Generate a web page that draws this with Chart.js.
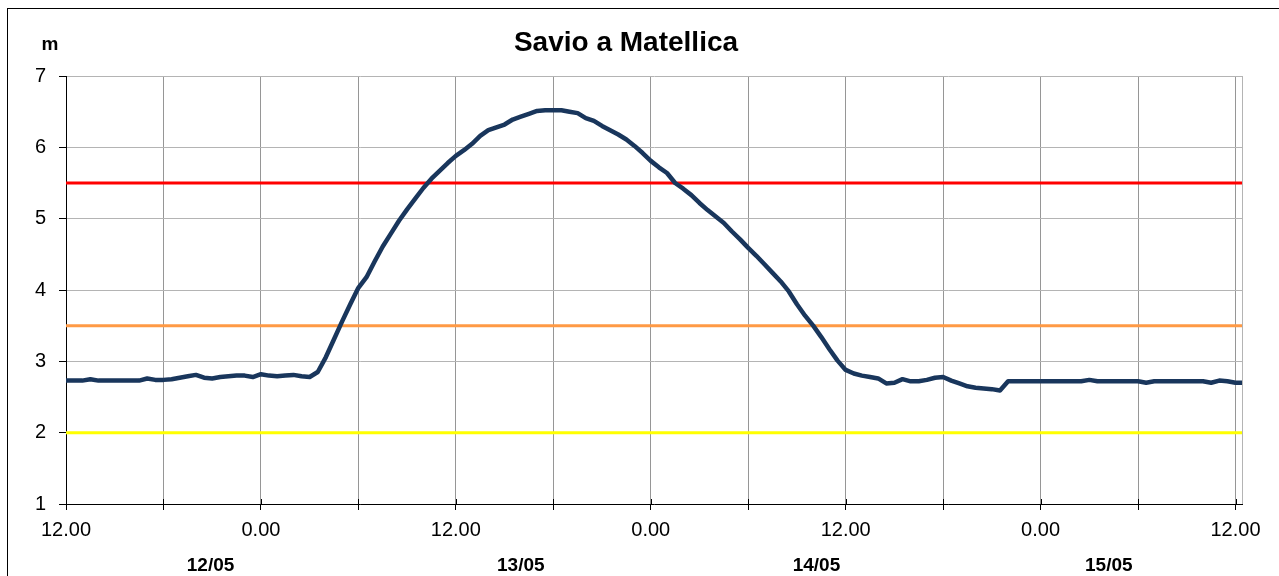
<!DOCTYPE html>
<html>
<head>
<meta charset="utf-8">
<script src="https://cdn.jsdelivr.net/npm/chart.js@4/dist/chart.umd.min.js"></script>
<style>
html,body{margin:0;padding:0;background:#fff;}
#wrap{width:1279px;height:576px;position:relative;overflow:hidden;}
canvas{display:block;}
</style>
</head>
<body>
<div id="wrap"><canvas id="c" width="1279" height="576"></canvas></div>
<script>
// ---- data ----
const chartTitle = 'Savio a Matellica';
const unitLabel = 'm';
const stepHours = 0.5; // one reading every 30 minutes, starting 12/05 12.00
const levels = [
  2.73,2.73,2.73,2.75,2.73,2.73,2.73,2.73,2.73,2.73,2.76,2.74,
  2.74,2.75,2.77,2.79,2.81,2.77,2.76,2.78,2.79,2.80,2.80,2.78,
  2.82,2.80,2.79,2.80,2.81,2.79,2.78,2.85,3.06,3.31,3.56,3.80,
  4.03,4.18,4.40,4.61,4.79,4.97,5.13,5.28,5.43,5.56,5.67,5.78,
  5.88,5.96,6.05,6.16,6.24,6.28,6.32,6.39,6.43,6.47,6.51,6.52,
  6.52,6.52,6.50,6.48,6.41,6.37,6.30,6.24,6.18,6.11,6.02,5.92,
  5.81,5.72,5.64,5.50,5.42,5.33,5.22,5.12,5.03,4.94,4.82,4.71,
  4.59,4.48,4.36,4.24,4.12,3.98,3.80,3.64,3.50,3.34,3.17,3.01,
  2.88,2.83,2.80,2.78,2.76,2.69,2.70,2.75,2.72,2.72,2.74,2.77,
  2.78,2.73,2.69,2.65,2.63,2.62,2.61,2.59,2.72,2.72,2.72,2.72,
  2.72,2.72,2.72,2.72,2.72,2.72,2.74,2.72,2.72,2.72,2.72,2.72,
  2.72,2.70,2.72,2.72,2.72,2.72,2.72,2.72,2.72,2.70,2.73,2.72,
  2.70,2.70
];
const xTickLabels = ['12.00','','0.00','','12.00','','0.00','','12.00','','0.00','','12.00'];
const dayLabels = ['12/05','13/05','14/05','15/05'];
const dayLabelHours = [8.9, 28.0, 46.2, 64.2];
const yTicks = [1,2,3,4,5,6,7];
const thresholdValues = [5.5, 3.5, 2.0];
const thresholdColors = ['#ff0000','#ff9a45','#ffff00'];

// ---- chart ----
const FONT = "'Liberation Sans', Arial, sans-serif";
const X_MAX = 72.4;
const lastHour = (levels.length - 1) * stepHours;

const datasets = [{
  data: levels.map((v, i) => ({x: i * stepHours, y: v})),
  borderColor: '#19365c',
  borderWidth: 4.5,
  pointRadius: 0,
  tension: 0,
  borderJoinStyle: 'round',
  borderCapStyle: 'round'
}];
thresholdValues.forEach((t, i) => {
  datasets.push({
    data: [{x: 0, y: t}, {x: lastHour, y: t}],
    borderColor: thresholdColors[i],
    borderWidth: 3,
    pointRadius: 0,
    tension: 0
  });
});

const decor = {
  id: 'decor',
  beforeDraw(chart) {
    const ctx = chart.ctx;
    ctx.save();
    ctx.fillStyle = '#fff';
    ctx.fillRect(0, 0, chart.width, chart.height);
    ctx.restore();
  },
  afterDraw(chart) {
    const ctx = chart.ctx;
    const a = chart.chartArea;
    const xs = chart.scales.x;
    ctx.save();
    // plot area right edge
    ctx.strokeStyle = '#b4b4b4';
    ctx.lineWidth = 1;
    ctx.beginPath();
    ctx.moveTo(Math.round(a.right) + 0.5, a.top);
    ctx.lineTo(Math.round(a.right) + 0.5, a.bottom);
    ctx.stroke();
    // inner half of the cross tick marks on the category axis
    ctx.strokeStyle = '#000';
    ctx.beginPath();
    xs.ticks.forEach(t => {
      const px = Math.round(xs.getPixelForValue(t.value)) + 0.5;
      ctx.moveTo(px, a.bottom - 5);
      ctx.lineTo(px, a.bottom);
    });
    ctx.stroke();
    // outer frame
    ctx.strokeRect(7.5, 8.5, 1400, 700);
    // title and unit
    ctx.fillStyle = '#000';
    ctx.textAlign = 'center';
    ctx.textBaseline = 'middle';
    ctx.font = "bold 28px " + FONT;
    ctx.fillText(chartTitle, 626, 43);
    ctx.font = "bold 19px " + FONT;
    ctx.fillText(unitLabel, 50, 45);
    ctx.restore();
  }
};

new Chart(document.getElementById('c'), {
  type: 'line',
  data: {datasets},
  plugins: [decor],
  options: {
    responsive: false,
    animation: false,
    devicePixelRatio: 1,
    layout: {padding: {top: 76, right: 37, bottom: 0, left: 0}},
    plugins: {legend: {display: false}, tooltip: {enabled: false}, title: {display: false}},
    scales: {
      x: {
        type: 'linear', position: 'bottom', weight: 0,
        min: 0, max: X_MAX,
        ticks: {
          stepSize: 6, includeBounds: false, autoSkip: false, maxRotation: 0,
          padding: 8, color: '#000', font: {family: FONT, size: 20},
          callback: (v) => xTickLabels[Math.round(v / 6)] ?? ''
        },
        grid: {color: '#969696', tickColor: '#000', tickLength: 6},
        border: {color: '#000', width: 1},
        afterFit: (s) => { s.height = 40; }
      },
      x2: {
        type: 'linear', position: 'bottom', weight: 1,
        min: 0, max: X_MAX,
        afterBuildTicks: (s) => { s.ticks = dayLabelHours.map(v => ({value: v})); },
        ticks: {
          autoSkip: false, maxRotation: 0, padding: 2, color: '#000',
          font: {family: FONT, size: 19, weight: 'bold'},
          callback: (v, i) => dayLabels[i]
        },
        grid: {display: false},
        border: {display: false},
        afterFit: (s) => { s.height = 32; }
      },
      y: {
        type: 'linear', min: yTicks[0], max: yTicks[yTicks.length - 1],
        afterBuildTicks: (s) => { s.ticks = yTicks.map(v => ({value: v})); },
        ticks: {padding: 13, color: '#000', font: {family: FONT, size: 20}},
        grid: {color: '#b4b4b4', tickColor: '#000', tickLength: 7},
        border: {color: '#000', width: 1},
        afterFit: (s) => { s.width = 66; }
      }
    }
  }
});
</script>
</body>
</html>
